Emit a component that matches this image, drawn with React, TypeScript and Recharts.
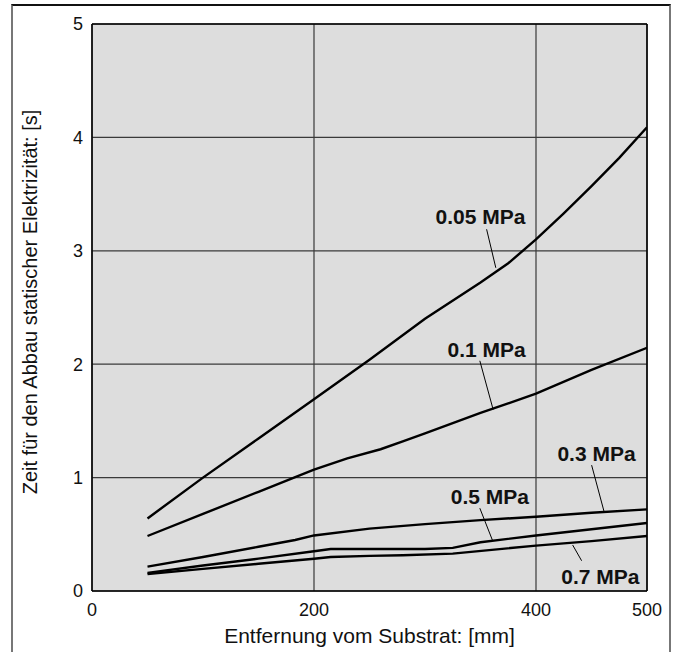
import {
  LineChart,
  Line,
  XAxis,
  YAxis,
  CartesianGrid,
  ReferenceLine,
  ReferenceDot,
} from 'recharts';

// Entfernung [mm] per curve and Zeit [s]
const dist005 = [50, 100, 150, 200, 250, 300, 350, 375, 400, 425, 450, 475, 500];
const time005 = [0.64, 1.0, 1.345, 1.69, 2.04, 2.4, 2.72, 2.89, 3.1, 3.33, 3.57, 3.82, 4.09];

const dist01 = [50, 100, 150, 182, 200, 230, 260, 280, 300, 350, 400, 450, 500];
const time01 = [0.485, 0.68, 0.875, 1.0, 1.07, 1.17, 1.25, 1.32, 1.39, 1.57, 1.74, 1.95, 2.145];

const dist03 = [50, 100, 150, 183, 200, 250, 300, 350, 400, 450, 500];
const time03 = [0.215, 0.3, 0.39, 0.45, 0.49, 0.55, 0.59, 0.625, 0.655, 0.69, 0.72];

const dist05 = [50, 100, 150, 200, 215, 250, 300, 325, 350, 400, 450, 500];
const time05 = [0.16, 0.225, 0.285, 0.35, 0.37, 0.37, 0.37, 0.38, 0.43, 0.49, 0.545, 0.6];

const dist07 = [50, 100, 150, 200, 215, 250, 280, 325, 400, 450, 500];
const time07 = [0.15, 0.195, 0.24, 0.285, 0.3, 0.31, 0.315, 0.33, 0.4, 0.44, 0.485];

const xTicks = [0, 200, 400, 500];
const yTicks = [0, 1, 2, 3, 4, 5];

const toPoints = (xs: number[], ys: number[]) => xs.map((x, i) => ({ x, y: ys[i] }));

const series = [
  toPoints(dist005, time005),
  toPoints(dist01, time01),
  toPoints(dist03, time03),
  toPoints(dist05, time05),
  toPoints(dist07, time07),
];

// pressure labels with leader lines (label centre, leader start, leader end)
const labelText = ['0.05 MPa', '0.1 MPa', '0.3 MPa', '0.5 MPa', '0.7 MPa'];
const labelAt = [
  { x: 350, y: 3.3 },
  { x: 355.5, y: 2.13 },
  { x: 454.5, y: 1.21 },
  { x: 358.5, y: 0.83 },
  { x: 458, y: 0.13 },
];
const leaderFrom = [
  { x: 355.5, y: 3.19 },
  { x: 349.4, y: 2.03 },
  { x: 450.1, y: 1.11 },
  { x: 349.4, y: 0.73 },
  { x: 433, y: 0.406 },
];
const leaderTo = [
  { x: 363.8, y: 2.85 },
  { x: 361.4, y: 1.6 },
  { x: 461.5, y: 0.694 },
  { x: 360.9, y: 0.444 },
  { x: 441.1, y: 0.267 },
];

const font = '"Liberation Sans", Arial, Helvetica, sans-serif';

export default function App() {
  return (
    <div
      style={{
        position: 'absolute',
        left: 0,
        top: 0,
        width: 678,
        height: 652,
        overflow: 'hidden',
        background: '#fff',
        fontFamily: font,
      }}
    >
      <div
        style={{
          position: 'absolute',
          left: 11,
          top: 4,
          width: 656,
          height: 700,
          borderTop: '2px solid #111',
          borderLeft: '2px solid #777',
          borderRight: '2px solid #777',
        }}
      />
      <div style={{ position: 'absolute', left: 0, top: 0 }}>
        <LineChart
          width={678}
          height={652}
          margin={{ top: 24, right: 31, bottom: 0, left: 0 }}
        >
          <CartesianGrid fill="#dddddd" stroke="#3a3a3a" strokeWidth={1.2} />
          <XAxis
            dataKey="x"
            type="number"
            domain={[0, 500]}
            ticks={xTicks}
            allowDataOverflow
            height={61}
            tickLine={false}
            tickSize={0}
            tickMargin={12}
            axisLine={{ stroke: '#000', strokeWidth: 1.5 }}
            tick={{ fill: '#111', fontSize: 18, fontFamily: font }}
            label={{
              value: 'Entfernung vom Substrat: [mm]',
              position: 'insideBottom',
              offset: 9,
              style: { fill: '#111', fontSize: 21, fontFamily: font },
            }}
          />
          <YAxis
            type="number"
            domain={[0, 5]}
            ticks={yTicks}
            allowDataOverflow
            width={92}
            tickLine={false}
            tickSize={0}
            tickMargin={9}
            axisLine={{ stroke: '#000', strokeWidth: 1.5 }}
            tick={{ fill: '#111', fontSize: 18, fontFamily: font }}
            label={{
              content: () => (
                <text
                  x={37}
                  y={302}
                  transform="rotate(-90 37 302)"
                  textAnchor="middle"
                  fill="#111"
                  fontSize={20}
                  fontFamily={font}
                >
                  Zeit für den Abbau statischer Elektrizität: [s]
                </text>
              ),
            }}
          />
          <ReferenceLine y={5} stroke="#000" strokeWidth={1.5} />
          <ReferenceLine x={500} stroke="#000" strokeWidth={1.5} />
          {series.map((d, i) => (
            <Line
              key={labelText[i]}
              data={d}
              dataKey="y"
              type="linear"
              stroke="#000"
              strokeWidth={2.4}
              dot={false}
              activeDot={false}
              isAnimationActive={false}
            />
          ))}
          {labelText.map((t, i) => (
            <ReferenceLine
              key={'leader' + t}
              segment={[leaderFrom[i], leaderTo[i]]}
              stroke="#000"
              strokeWidth={1}
            />
          ))}
          {labelText.map((t, i) => (
            <ReferenceDot
              key={'label' + t}
              x={labelAt[i].x}
              y={labelAt[i].y}
              r={0}
              shape={(p: any) => (
                <text
                  x={p.cx}
                  y={p.cy}
                  textAnchor="middle"
                  dominantBaseline="central"
                  fontSize={21}
                  fontWeight="bold"
                  fontFamily={font}
                  fill="#111"
                >
                  {t}
                </text>
              )}
            />
          ))}
        </LineChart>
      </div>
    </div>
  );
}
